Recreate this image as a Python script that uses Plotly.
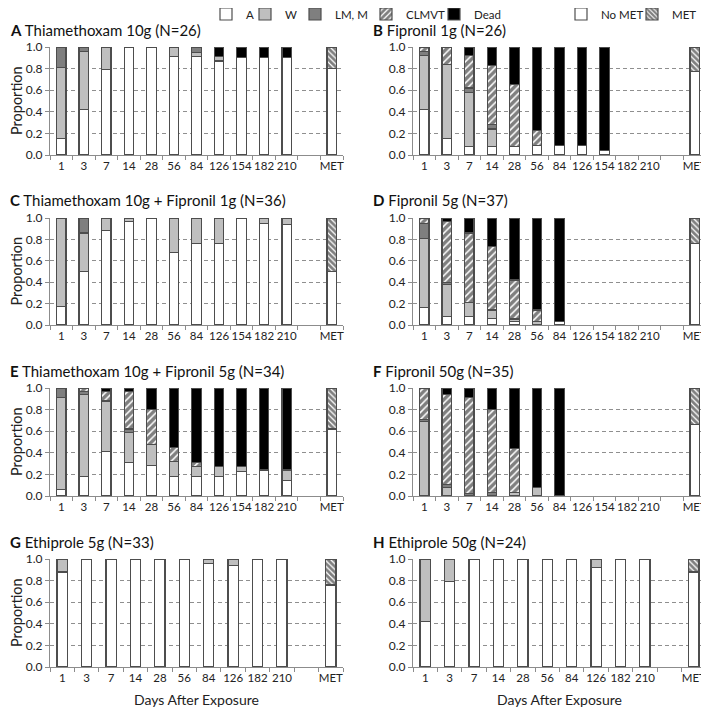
import plotly.graph_objects as go
from plotly.subplots import make_subplots

days_full = ["1", "3", "7", "14", "28", "56", "84", "126", "154", "182", "210"]
days_eth = ["1", "3", "7", "14", "28", "56", "84", "126", "182", "210"]
statuses = ["A", "W", "LM, M", "CLMVT", "Dead"]

# proportions per day, one list per status (stacked bottom -> top)
thia10 = {
    "A": [0.15, 0.42, 0.79, 1.0, 1.0, 0.91, 0.91, 0.87, 0.90, 0.90, 0.90],
    "W": [0.66, 0.54, 0.21, 0, 0, 0.09, 0.04, 0.04, 0, 0, 0],
    "LM, M": [0.19, 0.04, 0, 0, 0, 0, 0.05, 0, 0, 0, 0],
    "CLMVT": [0, 0, 0, 0, 0, 0, 0, 0, 0, 0, 0],
    "Dead": [0, 0, 0, 0, 0, 0, 0, 0.09, 0.10, 0.10, 0.10],
}
fip1 = {
    "A": [0.42, 0.15, 0.08, 0.08, 0.08, 0.09, 0.09, 0.09, 0.04, 0, 0],
    "W": [0.50, 0.69, 0.50, 0.16, 0, 0, 0, 0, 0, 0, 0],
    "LM, M": [0.04, 0, 0.04, 0.04, 0, 0, 0, 0, 0, 0, 0],
    "CLMVT": [0.04, 0.16, 0.30, 0.55, 0.57, 0.14, 0, 0, 0, 0, 0],
    "Dead": [0, 0, 0.08, 0.17, 0.35, 0.77, 0.91, 0.91, 0.96, 0, 0],
}
thia10_fip1 = {
    "A": [0.17, 0.50, 0.88, 0.97, 1.0, 0.68, 0.76, 0.76, 1.0, 0.95, 0.94],
    "W": [0.83, 0.36, 0.12, 0.03, 0, 0.32, 0.24, 0.24, 0, 0.05, 0.06],
    "LM, M": [0, 0.14, 0, 0, 0, 0, 0, 0, 0, 0, 0],
    "CLMVT": [0, 0, 0, 0, 0, 0, 0, 0, 0, 0, 0],
    "Dead": [0, 0, 0, 0, 0, 0, 0, 0, 0, 0, 0],
}
fip5 = {
    "A": [0.16, 0.08, 0.08, 0.06, 0.03, 0, 0.03, 0, 0, 0, 0],
    "W": [0.65, 0.30, 0.13, 0.08, 0.02, 0.03, 0, 0, 0, 0, 0],
    "LM, M": [0.14, 0.02, 0, 0, 0.01, 0, 0, 0, 0, 0, 0],
    "CLMVT": [0.05, 0.57, 0.65, 0.59, 0.36, 0.11, 0, 0, 0, 0, 0],
    "Dead": [0, 0.03, 0.14, 0.27, 0.58, 0.86, 0.97, 0, 0, 0, 0],
}
thia10_fip5 = {
    "A": [0.06, 0.18, 0.41, 0.31, 0.28, 0.18, 0.18, 0.18, 0.23, 0.24, 0.14],
    "W": [0.85, 0.76, 0.47, 0.28, 0.20, 0.14, 0.09, 0.09, 0.04, 0, 0.10],
    "LM, M": [0.09, 0.03, 0, 0.03, 0, 0, 0, 0, 0, 0, 0],
    "CLMVT": [0, 0.03, 0.09, 0.35, 0.32, 0.13, 0.04, 0, 0, 0, 0],
    "Dead": [0, 0, 0.03, 0.03, 0.20, 0.55, 0.69, 0.73, 0.73, 0.76, 0.76],
}
fip50 = {
    "A": [0, 0, 0, 0, 0, 0, 0, 0, 0, 0, 0],
    "W": [0.69, 0.08, 0, 0, 0.03, 0.08, 0, 0, 0, 0, 0],
    "LM, M": [0.02, 0.03, 0.02, 0.03, 0, 0, 0, 0, 0, 0, 0],
    "CLMVT": [0.29, 0.83, 0.89, 0.77, 0.41, 0, 0, 0, 0, 0, 0],
    "Dead": [0, 0.06, 0.09, 0.20, 0.56, 0.92, 1.0, 0, 0, 0, 0],
}
eth5 = {
    "A": [0.88, 1.0, 1.0, 1.0, 1.0, 1.0, 0.96, 0.94, 1.0, 1.0],
    "W": [0.12, 0, 0, 0, 0, 0, 0.04, 0.06, 0, 0],
}
eth50 = {
    "A": [0.42, 0.79, 1.0, 1.0, 1.0, 1.0, 1.0, 0.92, 1.0, 1.0],
    "W": [0.58, 0.21, 0, 0, 0, 0, 0, 0.08, 0, 0],
}

met_labels = ["No MET", "MET"]
met_no = [0.80, 0.77, 0.50, 0.76, 0.62, 0.66, 0.76, 0.88]
met_yes = [0.20, 0.23, 0.50, 0.24, 0.38, 0.34, 0.24, 0.12]

panel_letters = ["A", "B", "C", "D", "E", "F", "G", "H"]
panel_names = ["Thiamethoxam 10g (N=26)", "Fipronil 1g (N=26)",
               "Thiamethoxam 10g + Fipronil 1g (N=36)", "Fipronil 5g (N=37)",
               "Thiamethoxam 10g + Fipronil 5g (N=34)", "Fipronil 50g (N=35)",
               "Ethiprole 5g (N=33)", "Ethiprole 50g (N=24)"]
panels = [thia10, fip1, thia10_fip1, fip5, thia10_fip5, fip50, eth5, eth50]
panel_days = [days_full] * 6 + [days_eth] * 2

# page is 709x709, the body margin puts the figure 8px in
PAGE = 709
OFF = 8
SIZE = PAGE - OFF


def fx(px):
    return (px - OFF) / SIZE


def fy(py):
    return 1 - (py - OFF) / SIZE


OUTLINE = "#4d4d4d"
styles = {
    "A": dict(color="white"),
    "W": dict(color="#bfbfbf"),
    "LM, M": dict(color="#7f7f7f"),
    "CLMVT": dict(color="white", pattern=dict(shape="/", fgcolor="black", bgcolor="white",
                                              size=5, solidity=0.7)),
    "Dead": dict(color="black"),
    "No MET": dict(color="white"),
    "MET": dict(color="white", pattern=dict(shape="\\", fgcolor="black", bgcolor="white",
                                            size=4, solidity=0.7)),
}
legend_key = {"A": "legend", "W": "legend2", "LM, M": "legend3", "CLMVT": "legend4",
              "Dead": "legend5", "No MET": "legend6", "MET": "legend7"}
legend_x = {"A": 206, "W": 245, "LM, M": 295, "CLMVT": 366, "Dead": 434,
            "No MET": 561, "MET": 632}

fig = make_subplots(rows=4, cols=2)

for i, (data, days) in enumerate(zip(panels, panel_days)):
    r, c = i // 2 + 1, i % 2 + 1
    for s in statuses:
        vals = data.get(s, [0] * len(days))
        y = [v if v else None for v in vals]
        fig.add_trace(go.Bar(x=days, y=y, name=s, legendgroup=s, legend=legend_key[s],
                             showlegend=(i == 0),
                             marker=dict(line=dict(color=OUTLINE, width=1.2), **styles[s])),
                      row=r, col=c)
    for lab, v in zip(met_labels, [met_no[i], met_yes[i]]):
        fig.add_trace(go.Bar(x=["MET"], y=[v], name=lab, legendgroup=lab,
                             legend=legend_key[lab], showlegend=(i == 0),
                             marker=dict(line=dict(color=OUTLINE, width=1.2), **styles[lab])),
                      row=r, col=c)

    cats = days + [" ", "MET"]
    fig.update_xaxes(type="category", categoryorder="array", categoryarray=cats,
                     range=[-0.5, len(cats) - 0.5], row=r, col=c)

# panel placement in page pixels
col_px = [(50, 343), (413, 706)]
row_px = [(47, 155), (218, 325), (388, 496), (559, 667)]
for i in range(8):
    r, c = i // 2, i % 2
    n = "" if i == 0 else str(i + 1)
    top, bot = row_px[r]
    fig.layout["xaxis" + n].domain = [fx(col_px[c][0]), fx(col_px[c][1])]
    fig.layout["yaxis" + n].domain = [fy(bot), fy(top)]

fig.update_xaxes(showline=True, linecolor="#8c8c8c", linewidth=1, ticks="outside",
                 tickson="boundaries", ticklen=4, tickcolor="#8c8c8c", tickangle=0,
                 showgrid=False, tickfont=dict(size=11.5, color="#222"))
fig.update_yaxes(range=[0, 1.0], dtick=0.2, tickformat=".1f", showline=True,
                 linecolor="#8c8c8c", linewidth=1, ticks="outside", ticklen=4,
                 tickcolor="#8c8c8c", showgrid=True, gridcolor="#8f8f8f",
                 griddash="4px,3px", gridwidth=1, zeroline=False,
                 tickfont=dict(size=12, color="#222"))

title_pos = [(8, 30), (371, 30), (8, 200), (371, 200), (8, 371), (371, 371), (8, 542), (371, 542)]
for (px, py), letter, name in zip(title_pos, panel_letters, panel_names):
    fig.add_annotation(x=fx(px), y=fy(py), xref="paper", yref="paper",
                       xanchor="left", yanchor="middle", showarrow=False,
                       text="<b>%s</b> %s" % (letter, name),
                       font=dict(size=15, color="#111"))

for top, bot in row_px:
    fig.add_annotation(x=fx(16), y=fy((top + bot) / 2), xref="paper", yref="paper",
                       xanchor="center", yanchor="middle",
                       textangle=-90, showarrow=False, text="Proportion",
                       font=dict(size=14.5, color="#222"))
for left, right in col_px:
    fig.add_annotation(x=fx((left + right) / 2), y=fy(699), xref="paper", yref="paper",
                       xanchor="center", yanchor="middle",
                       showarrow=False, text="Days After Exposure",
                       font=dict(size=14, color="#222"))

legends = {}
for s, key in legend_key.items():
    legends[key] = dict(orientation="h", x=fx(legend_x[s]), y=fy(14), xanchor="left",
                        yanchor="middle", font=dict(size=11.5), itemwidth=30,
                        bgcolor="rgba(0,0,0,0)")

fig.update_layout(
    width=SIZE, height=SIZE,
    margin=dict(l=0, r=0, t=0, b=0, autoexpand=False),
    barmode="stack", bargap=0.58,
    plot_bgcolor="white", paper_bgcolor="white",
    font=dict(family="Lato, sans-serif", color="#222"),
    **legends,
)

fig.write_html("out.html")
